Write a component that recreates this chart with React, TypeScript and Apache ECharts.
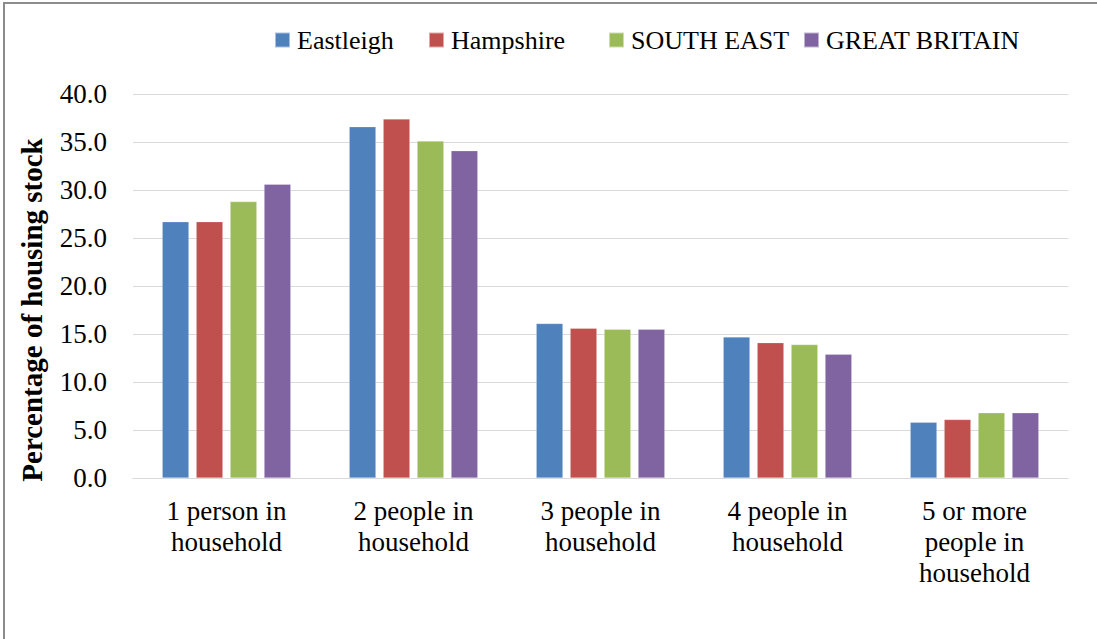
import React, { useEffect, useRef } from "react";
import * as echarts from "echarts";

const categories = [
  "1 person in\nhousehold",
  "2 people in\nhousehold",
  "3 people in\nhousehold",
  "4 people in\nhousehold",
  "5 or more\npeople in\nhousehold",
];
const seriesNames = ["Eastleigh", "Hampshire", "SOUTH EAST", "GREAT BRITAIN"];
const eastleigh = [26.7, 36.6, 16.1, 14.7, 5.8];
const hampshire = [26.7, 37.4, 15.6, 14.1, 6.1];
const southEast = [28.8, 35.1, 15.5, 13.9, 6.8];
const greatBritain = [30.6, 34.1, 15.5, 12.9, 6.8];
const colors = ["#4F81BD", "#C0504D", "#9BBB59", "#8064A2"];
const yMin = 0;
const yMax = 40;
const yInterval = 5;
const yTitle = "Percentage of housing stock";

const legendLefts = [274, 428, 608, 803];

const FONT = '"Liberation Serif", "DejaVu Serif", serif';

export default function App() {
  const ref = useRef<HTMLDivElement>(null);
  useEffect(() => {
    if (!ref.current) return;
    const chart = echarts.init(ref.current, null, { renderer: "svg" });
    const data = [eastleigh, hampshire, southEast, greatBritain];
    chart.setOption({
      animation: false,
      backgroundColor: "#ffffff",
      color: colors,
      textStyle: { fontFamily: FONT },
      grid: { left: 133, right: 29, top: 94, bottom: 161, containLabel: false },
      legend: seriesNames.map((name, i) => ({
        left: legendLefts[i],
        top: 27,
        padding: 0,
        itemWidth: 15,
        itemHeight: 15,
        icon: "rect",
        textStyle: { fontFamily: FONT, fontSize: 26, color: "#000", padding: [0, 0, 0, 2] },
        data: [name],
      })),
      xAxis: {
        type: "category",
        data: categories,
        axisLine: { lineStyle: { color: "#d9d9d9", width: 1 } },
        axisTick: { show: false },
        axisLabel: {
          fontFamily: FONT,
          fontSize: 27,
          color: "#000",
          lineHeight: 31,
          margin: 17,
          interval: 0,
        },
      },
      yAxis: {
        type: "value",
        min: yMin,
        max: yMax,
        interval: yInterval,
        axisLine: { show: false },
        axisTick: { show: false },
        splitLine: { lineStyle: { color: "#d9d9d9", width: 1 } },
        axisLabel: {
          fontFamily: FONT,
          fontSize: 27,
          color: "#000",
          margin: 26,
          formatter: (v: number) => v.toFixed(1),
        },
      },
      series: seriesNames.map((name, i) => ({
        name,
        type: "bar",
        data: data[i],
        barWidth: "14.3%",
        barGap: "27%",
        itemStyle: { color: colors[i], borderColor: "rgba(255,255,255,0.5)", borderWidth: 0.5 },
      })),
      graphic: [
        {
          type: "rect",
          shape: { x: 4, y: 3, width: 1400, height: 900 },
          style: { fill: "none", stroke: "#8c8c8c", lineWidth: 2 },
          silent: true,
        },
        {
          type: "text",
          x: 32,
          y: 310,
          rotation: Math.PI / 2,
          style: {
            text: yTitle,
            fontFamily: FONT,
            fontSize: 29,
            fontWeight: "bold",
            fill: "#000",
            align: "center",
            verticalAlign: "middle",
          },
        },
      ],
    });
    return () => chart.dispose();
  }, []);
  return (
    <div
      ref={ref}
      style={{ position: "fixed", left: 0, top: 0, width: 1097, height: 639 }}
    />
  );
}
